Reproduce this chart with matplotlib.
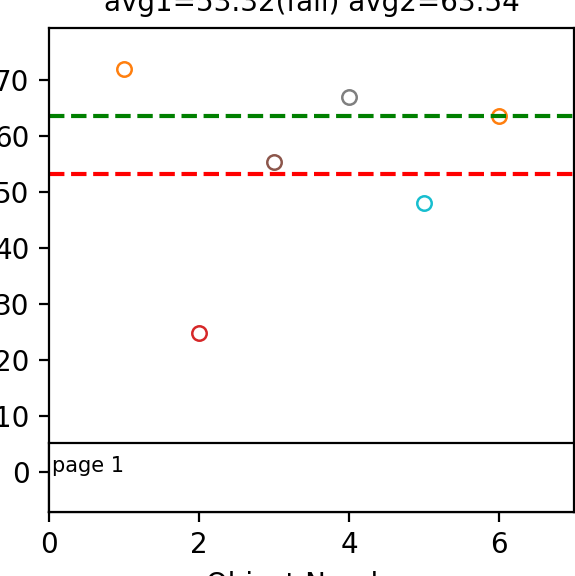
import matplotlib
matplotlib.use("Agg")
import matplotlib.pyplot as plt

obj_num = [1, 2, 3, 4, 5, 6]
values = [72.0, 24.9, 55.3, 66.9, 48.0, 63.6]
colors = ["tab:orange", "tab:red", "tab:brown", "tab:gray", "tab:cyan", "tab:orange"]
avg1 = 53.32
avg2 = 63.54
title = "avg1=53.32(fail) avg2=63.54"

fig = plt.figure(figsize=(2.875, 2.88), dpi=200)
ax = fig.add_axes([49 / 575, 64 / 576, 525 / 575, 484 / 576])

for x, y, c in zip(obj_num, values, colors):
    ax.plot(x, y, "o", mfc="none", mec=c, ms=5.2, mew=0.9)

ax.axhline(avg1, color="red", ls="--", lw=1.5)
ax.axhline(avg2, color="green", ls="--", lw=1.5)

ax.set_xlim(0, 7)
ax.set_ylim(-7.1, 79.3)
ax.set_xticks([0, 2, 4, 6])
ax.set_yticks([0, 10, 20, 30, 40, 50, 60, 70])
ax.set_xlabel("Object Number")
ax.set_ylabel("Value")
ax.set_title(title, fontsize=10)

# page box at the bottom of the plot
pax = fig.add_axes([49 / 575, 64 / 576, 525 / 575, 69 / 576])
pax.set_xticks([])
pax.set_yticks([])
pax.text(0.005, 0.66, "page 1", transform=pax.transAxes, ha="left", va="center", fontsize=7.5)

fig.savefig("out.png", dpi=200)
